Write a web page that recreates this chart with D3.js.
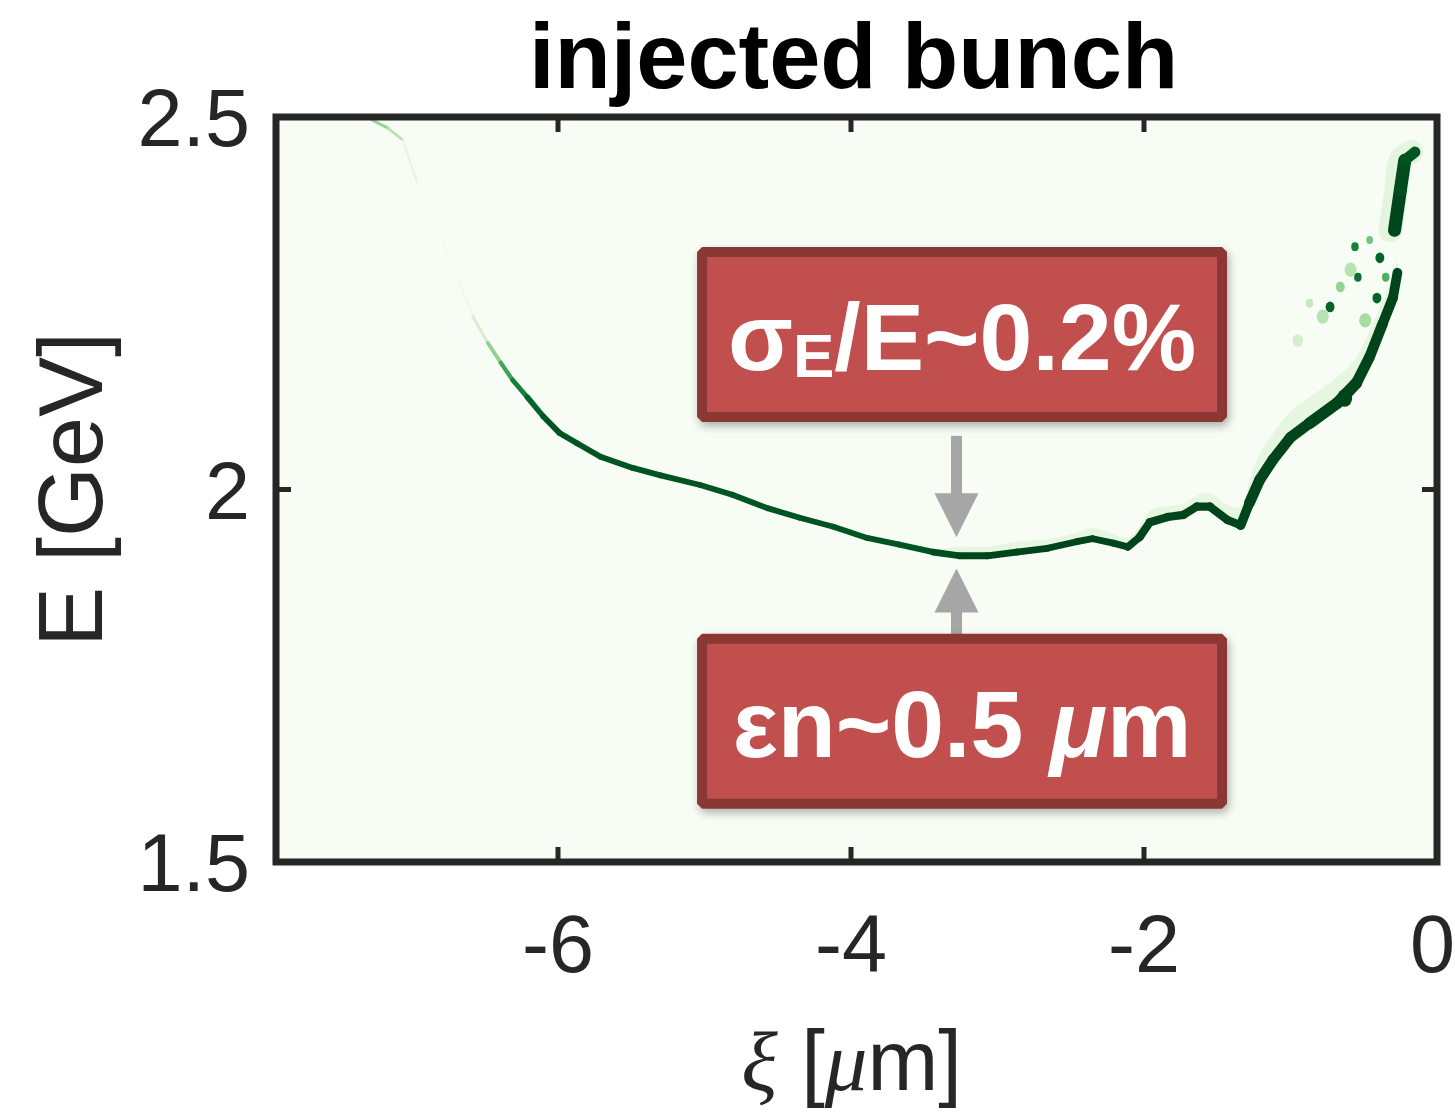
<!DOCTYPE html>
<html><head><meta charset="utf-8">
<script src="https://cdn.jsdelivr.net/npm/d3@7"></script>
<style>body{margin:0;background:#fff}svg{display:block}</style>
</head><body>
<svg id="chart" width="1455" height="1112"></svg>
<script>
// ---------------- data ----------------
const xiTicks = [-6, -4, -2, 0];
const eTicks = [1.5, 2, 2.5];
const xiDomain = [-7.925, 0];
const eDomain = [1.5, 2.5];

// main branch of the injected bunch (ridge of the phase-space density)
const branchXi = [-7.27,-7.16,-7.06,-6.96,-6.81,-6.67,-6.58,-6.48,-6.39,-6.31,-6.21,-6.10,-5.99,-5.87,-5.71,-5.49,-5.30,-5.03,-4.81,-4.57,-4.35,-4.12,-3.89,-3.67,-3.44,-3.26,-3.07,-2.87,-2.66,-2.46,-2.35,-2.21,-2.11,-2.03,-1.96,-1.84,-1.73,-1.64,-1.55,-1.43,-1.34,-1.28,-1.21,-1.12,-1.00,-0.87,-0.68,-0.55,-0.46,-0.37,-0.30,-0.27];
const branchE = [2.496,2.485,2.469,2.411,2.344,2.277,2.232,2.197,2.170,2.147,2.124,2.098,2.076,2.062,2.044,2.029,2.019,2.006,1.993,1.975,1.962,1.950,1.935,1.926,1.916,1.911,1.911,1.916,1.921,1.930,1.934,1.928,1.923,1.936,1.956,1.963,1.966,1.977,1.977,1.959,1.952,1.982,2.013,2.040,2.070,2.089,2.116,2.143,2.178,2.223,2.258,2.291];
const branchSpread = [0.004,0.004,0.003,0.0027,0.0027,0.0027,0.0034,0.0045,0.0054,0.006,0.007,0.0078,0.0078,0.0078,0.0078,0.0078,0.0078,0.0078,0.0078,0.0078,0.0078,0.0078,0.0078,0.0078,0.0085,0.0095,0.0095,0.009,0.009,0.009,0.009,0.009,0.0095,0.011,0.011,0.011,0.011,0.011,0.011,0.011,0.011,0.0145,0.0145,0.0145,0.0145,0.0145,0.017,0.0145,0.0145,0.014,0.013,0.013];
const branchDensity = [0.4,0.4,0.2,0.02,0.02,0.03,0.08,0.3,0.55,0.75,0.85,0.95,0.95,0.95,0.95,0.95,0.95,0.95,0.95,0.95,0.95,0.95,0.95,0.95,0.95,1,1,1,1,1,1,1,1,1,1,1,1,1,1,1,1,1,1,1,1,1,1,1,1,1,1,1];
const branchHalo = [0,0,0,0,0,0,0,0,0,0,0,0,0,0,0,0,0,0,0,0,0,0,0,0,0.004,0.012,0.012,0.014,0.012,0.012,0.014,0.012,0.012,0.015,0.015,0.015,0.015,0.015,0.018,0.02,0.025,0.03,0.035,0.035,0.035,0.035,0.035,0.035,0.035,0.03,0.03,0.02];

// detached head of the bunch near xi ~ 0
const headXi = [-0.29,-0.25,-0.22,-0.15];
const headE = [2.348,2.402,2.442,2.453];
const headSpread = [0.016,0.019,0.016,0.013];
const headDensity = [1,1,0.95,0.95];

// scattered clumps near the head
const clumpXi = [-0.73,-0.56,-0.39,-0.54,-0.41,-0.59,-0.78,-0.87,-0.63,-0.49,-0.46,-0.66,-0.35,-0.95];
const clumpE = [2.245,2.326,2.311,2.285,2.257,2.295,2.232,2.250,2.123,2.227,2.335,2.272,2.285,2.200];
const clumpSpread = [0.012,0.01,0.012,0.01,0.012,0.016,0.016,0.01,0.02,0.016,0.009,0.012,0.01,0.014];
const clumpDensity = [0.9,0.8,0.9,0.85,0.9,0.3,0.3,0.25,1,0.35,0.5,0.4,0.6,0.2];

const titleText = "injected bunch";
const annotTop = {main: "σ", sub: "E", rest: "/E~0.2%"};
const annotBottom = {plain: "εn~0.5 ", ital: "μ", rest: "m"};

// ---------------- layout ----------------
const svg = d3.select("#chart");
const W = 1455;
const L = 276, R = 1437, T = 117, B = 862;
const x = d3.scaleLinear().domain(xiDomain).range([L, R]);
const y = d3.scaleLinear().domain(eDomain).range([B, T]);
const greens = d3.scaleSequential(d3.interpolateGreens).domain([0, 1]);
const ink = "#262626";
const sans = "'Liberation Sans', Arial, Helvetica, sans-serif";
const serif = "'Liberation Serif', 'DejaVu Serif', serif";

const defs = svg.append("defs");
const f = defs.append("filter").attr("id", "shadow").attr("x", "-10%").attr("y", "-10%").attr("width", "125%").attr("height", "135%");
f.append("feDropShadow").attr("dx", 2).attr("dy", 4).attr("stdDeviation", 4).attr("flood-color", "#000").attr("flood-opacity", 0.3);
defs.append("clipPath").attr("id", "plotclip").append("rect").attr("x", L).attr("y", T).attr("width", R - L).attr("height", B - T);

// plot background = zero density colour
svg.append("rect").attr("x", L).attr("y", T).attr("width", R - L).attr("height", B - T).attr("fill", greens(0));

const plot = svg.append("g").attr("clip-path", "url(#plotclip)");

// halo above main branch
const haloPts = branchXi.map((v, i) => ({xi: v, e: branchE[i], h: branchHalo[i]}));
plot.append("path")
  .datum(haloPts)
  .attr("d", d3.area().x(d => x(d.xi)).y0(d => y(d.e)).y1(d => y(d.e + d.h)).curve(d3.curveCatmullRom))
  .attr("fill", greens(0.12)).attr("opacity", 0.9);

// head halo
const headHaloPts = headXi.map((v, i) => ({xi: v, e: headE[i]}));
plot.append("path").datum(headHaloPts)
  .attr("d", d3.line().x(d => x(d.xi) - 4).y(d => y(d.e)).curve(d3.curveCatmullRom))
  .attr("fill", "none").attr("stroke", greens(0.12)).attr("stroke-width", 24).attr("stroke-linecap", "round");

// clumps
clumpXi.forEach((v, i) => {
  const r = Math.abs(y(clumpE[i] + clumpSpread[i]) - y(clumpE[i])) / 2;
  plot.append("ellipse").attr("cx", x(v)).attr("cy", y(clumpE[i]))
    .attr("rx", r).attr("ry", r * 1.2).attr("fill", greens(clumpDensity[i]));
});

function drawRidge(xs, es, sp, dn) {
  for (let i = 0; i < xs.length - 1; i++) {
    const w = (Math.abs(y(es[i] + sp[i]) - y(es[i])) + Math.abs(y(es[i + 1] + sp[i + 1]) - y(es[i + 1]))) / 2;
    plot.append("line")
      .attr("x1", x(xs[i])).attr("y1", y(es[i]))
      .attr("x2", x(xs[i + 1])).attr("y2", y(es[i + 1]))
      .attr("stroke", greens((dn[i] + dn[i + 1]) / 2))
      .attr("stroke-width", w).attr("stroke-linecap", "round");
  }
}
drawRidge(branchXi, branchE, branchSpread, branchDensity);
drawRidge(headXi, headE, headSpread, headDensity);

// frame
svg.append("rect").attr("x", L).attr("y", T).attr("width", R - L).attr("height", B - T)
  .attr("fill", "none").attr("stroke", ink).attr("stroke-width", 7);

// ticks (inward, all four sides)
const tk = 15;
xiTicks.forEach(t => {
  svg.append("line").attr("x1", x(t)).attr("x2", x(t)).attr("y1", B).attr("y2", B - tk).attr("stroke", ink).attr("stroke-width", 5);
  svg.append("line").attr("x1", x(t)).attr("x2", x(t)).attr("y1", T).attr("y2", T + tk).attr("stroke", ink).attr("stroke-width", 5);
});
eTicks.forEach(t => {
  svg.append("line").attr("x1", L).attr("x2", L + tk).attr("y1", y(t)).attr("y2", y(t)).attr("stroke", ink).attr("stroke-width", 5);
  svg.append("line").attr("x1", R).attr("x2", R - tk).attr("y1", y(t)).attr("y2", y(t)).attr("stroke", ink).attr("stroke-width", 5);
});

// tick labels
svg.append("g").selectAll("text").data(xiTicks).join("text")
  .attr("x", d => x(d)).attr("y", 972).attr("text-anchor", "middle")
  .attr("font-family", sans).attr("font-size", 81).attr("fill", ink)
  .text(d => d3.format("d")(d).replace("−", "-"))
  .each(function () {
    // keep the label inside the page
    const bb = this.getBBox();
    if (bb.x + bb.width > W) d3.select(this).attr("x", +d3.select(this).attr("x") - (bb.x + bb.width - W));
  });
svg.append("g").selectAll("text").data(eTicks).join("text")
  .attr("x", 250).attr("y", d => y(d) + 29).attr("text-anchor", "end")
  .attr("font-family", sans).attr("font-size", 81).attr("fill", ink)
  .text(d => d3.format("~g")(d));

// axis labels
svg.append("text").attr("transform", `translate(102,${(T + B) / 2}) rotate(-90)`)
  .attr("text-anchor", "middle").attr("font-family", sans).attr("font-size", 90).attr("fill", ink)
  .text("E [GeV]");
const xl = svg.append("text").attr("x", (L + R) / 2 - 5).attr("y", 1090).attr("text-anchor", "middle")
  .attr("font-family", sans).attr("font-size", 85).attr("fill", ink);
xl.append("tspan").attr("font-family", serif).attr("font-style", "italic").text("ξ");
xl.append("tspan").text(" [");
xl.append("tspan").attr("font-family", serif).attr("font-style", "italic").text("μ");
xl.append("tspan").text("m]");

// title
svg.append("text").attr("x", (L + R) / 2 - 3).attr("y", 88).attr("text-anchor", "middle")
  .attr("font-family", sans).attr("font-weight", "bold").attr("font-size", 92).attr("fill", "#000")
  .text(titleText);

// annotations (anchored in data space)
const annXi = -3.242, boxW = 520, boxH = 165;
const arrowXi = -3.28;
const gray = "#a6a6a6";
function arrow(e0, e1) {
  const ax = x(arrowXi), y0 = y(e0), y1 = y(e1);
  const dir = Math.sign(y1 - y0), headL = 44, headW = 22;
  svg.append("line").attr("x1", ax).attr("x2", ax).attr("y1", y0).attr("y2", y1 - dir * headL + dir * 2)
    .attr("stroke", gray).attr("stroke-width", 11);
  svg.append("path").attr("d", `M${ax - headW},${y1 - dir * headL} L${ax + headW},${y1 - dir * headL} L${ax},${y1} Z`).attr("fill", gray);
}
arrow(2.072, 1.936);
arrow(1.800, 1.894);

function box(eCenter) {
  const cx = x(annXi), cy = y(eCenter);
  svg.append("rect").attr("x", cx - boxW / 2).attr("y", cy - boxH / 2).attr("width", boxW).attr("height", boxH)
    .attr("fill", "#c0504d").attr("stroke", "#8b3836").attr("stroke-width", 10).attr("stroke-linejoin", "bevel")
    .attr("filter", "url(#shadow)");
  return svg.append("text").attr("x", cx).attr("y", cy + 35.5).attr("text-anchor", "middle")
    .attr("font-family", sans).attr("font-weight", "bold").attr("font-size", 95).attr("fill", "#fff");
}
const t1 = box(2.208);
t1.append("tspan").text(annotTop.main);
t1.append("tspan").attr("font-size", 62).attr("dy", 7).text(annotTop.sub);
t1.append("tspan").attr("dy", -7).text(annotTop.rest);
const t2 = box(1.689);
t2.append("tspan").text(annotBottom.plain);
t2.append("tspan").attr("font-style", "italic").text(annotBottom.ital);
t2.append("tspan").text(annotBottom.rest);
</script>
</body></html>
